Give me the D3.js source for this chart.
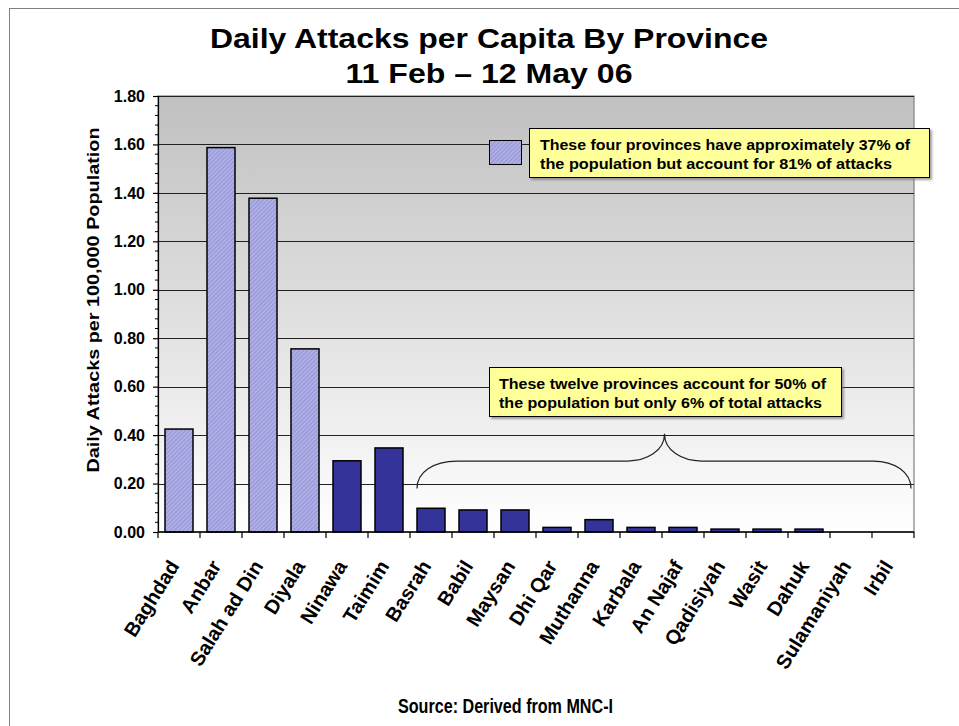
<!DOCTYPE html>
<html>
<head>
<meta charset="utf-8">
<script src="https://cdn.jsdelivr.net/npm/d3@7"></script>
<style>
  html, body { margin: 0; padding: 0; background: #ffffff; }
  svg { display: block; font-family: Arial, "Liberation Sans", Helvetica, sans-serif; }
</style>
</head>
<body>
<svg id="chart" width="959" height="726"></svg>
<script>
// ---------------- data ----------------
const provinces = ["Baghdad", "Anbar", "Salah ad Din", "Diyala", "Ninawa", "Taimim", "Basrah", "Babil",
  "Maysan", "Dhi Qar", "Muthanna", "Karbala", "An Najaf", "Qadisiyah", "Wasit", "Dahuk", "Sulamaniyah", "Irbil"];
const attacksPerCapita = [0.425, 1.587, 1.378, 0.756, 0.294, 0.347, 0.098, 0.091,
  0.091, 0.019, 0.051, 0.019, 0.019, 0.012, 0.012, 0.012, 0.0, 0.0];
const highProvinces = ["Baghdad", "Anbar", "Salah ad Din", "Diyala"];
const yTicks = [0, 0.2, 0.4, 0.6, 0.8, 1.0, 1.2, 1.4, 1.6, 1.8];
const titleLines = ["Daily Attacks per Capita By Province", "11 Feb \u2013 12 May 06"];
const yAxisTitle = "Daily Attacks per 100,000 Population";
const sourceText = "Source: Derived from MNC-I";
const note1 = ["These four provinces have approximately 37% of", "the population but account for 81% of attacks"];
const note2 = ["These twelve provinces account for 50% of", "the population but only 6% of total attacks"];
const braceStart = "Basrah", braceEnd = "Irbil";

// ---------------- layout ----------------
const svg = d3.select("#chart");
const plot = { left: 158, top: 96, right: 914, bottom: 532 };

const x = d3.scaleBand().domain(provinces).range([plot.left, plot.right]).paddingInner(1/3).paddingOuter(1/6);
const y = d3.scaleLinear().domain([0, 1.8]).range([plot.bottom, plot.top]);

const defs = svg.append("defs");
const grad = defs.append("linearGradient").attr("id", "bg").attr("x1", 0).attr("y1", 0).attr("x2", 0).attr("y2", 1);
grad.append("stop").attr("offset", "0%").attr("stop-color", "#c0c0c0");
grad.append("stop").attr("offset", "100%").attr("stop-color", "#ffffff");

const pat = defs.append("pattern").attr("id", "hatch").attr("patternUnits", "userSpaceOnUse")
  .attr("width", 3).attr("height", 3).attr("patternTransform", "rotate(45)");
pat.append("rect").attr("width", 3).attr("height", 3).attr("fill", "#aeaee8");
pat.append("line").attr("x1", 0).attr("y1", 0).attr("x2", 0).attr("y2", 3)
  .attr("stroke", "#8585c6").attr("stroke-width", 1.2);

const shadow = defs.append("filter").attr("id", "shadow").attr("x", "-5%").attr("y", "-5%").attr("width", "115%").attr("height", "125%");
shadow.append("feDropShadow").attr("dx", 2).attr("dy", 2).attr("stdDeviation", 0.8).attr("flood-color", "#777").attr("flood-opacity", 0.7);

// outer border
svg.append("rect").attr("x", 9.5).attr("y", 8.5).attr("width", 960).attr("height", 730)
  .attr("fill", "none").attr("stroke", "#808080").attr("stroke-width", 1);

// plot background
svg.append("rect").attr("x", plot.left).attr("y", plot.top)
  .attr("width", plot.right - plot.left).attr("height", plot.bottom - plot.top)
  .attr("fill", "url(#bg)").attr("stroke", "#808080").attr("stroke-width", 1.2);

// gridlines
svg.append("g").selectAll("line").data(yTicks.filter(d => d > 0)).join("line")
  .attr("x1", plot.left).attr("x2", plot.right)
  .attr("y1", d => Math.round(y(d)) + 0.5).attr("y2", d => Math.round(y(d)) + 0.5)
  .attr("stroke", "#222").attr("stroke-width", 1);

// bars
svg.append("g").selectAll("rect").data(provinces.map((p, i) => ({ p, v: attacksPerCapita[i] })).filter(d => d.v > 0))
  .join("rect")
  .attr("x", d => x(d.p)).attr("width", x.bandwidth())
  .attr("y", d => y(d.v)).attr("height", d => y(0) - y(d.v))
  .attr("fill", d => highProvinces.includes(d.p) ? "url(#hatch)" : "#333399")
  .attr("stroke", "#000").attr("stroke-width", 1.5);

// y axis
const yAxis = d3.axisLeft(y).tickValues(yTicks).tickFormat(d3.format(".2f")).tickSize(5).tickPadding(8);
const gy = svg.append("g").attr("transform", `translate(${plot.left},0)`).call(yAxis);
gy.select(".domain").attr("stroke", "#000").attr("stroke-width", 1.2);
gy.selectAll(".tick line").attr("stroke", "#000").attr("stroke-width", 1.2);
gy.selectAll(".tick text").attr("font-size", "16px").attr("font-weight", "bold").attr("fill", "#000")
  .attr("font-family", "Arial, 'Liberation Sans', sans-serif");
const minorTicks = d3.range(0, 1.8001, 0.04).filter(v => Math.abs(v / 0.2 - Math.round(v / 0.2)) > 1e-6);
svg.append("g").selectAll("line").data(minorTicks).join("line")
  .attr("x1", plot.left - 3).attr("x2", plot.left)
  .attr("y1", d => y(d)).attr("y2", d => y(d))
  .attr("stroke", "#000").attr("stroke-width", 1);

// x axis
svg.append("line").attr("x1", plot.left).attr("x2", plot.right).attr("y1", plot.bottom).attr("y2", plot.bottom)
  .attr("stroke", "#000").attr("stroke-width", 1.5);
const boundaries = provinces.map(p => x(p) - x.bandwidth() / 4).concat([plot.right]);
svg.append("g").selectAll("line").data(boundaries).join("line")
  .attr("x1", d => d).attr("x2", d => d).attr("y1", plot.bottom).attr("y2", plot.bottom + 6)
  .attr("stroke", "#000").attr("stroke-width", 1.2);

svg.append("g").selectAll("text").data(provinces).join("text")
  .attr("transform", p => `translate(${x(p) + x.bandwidth() / 2 + 1},${plot.bottom + 34}) rotate(-58)`)
  .attr("text-anchor", "end")
  .attr("font-size", "20px").attr("font-weight", "bold").attr("fill", "#000")
  .text(p => p);

// titles
svg.append("g").selectAll("text").data(titleLines).join("text")
  .attr("x", 489).attr("y", (d, i) => 48 + i * 35)
  .attr("text-anchor", "middle").attr("font-size", "28px").attr("font-weight", "bold").attr("fill", "#000")
  .attr("textLength", (d, i) => i === 0 ? 558 : 287).attr("lengthAdjust", "spacingAndGlyphs")
  .text(d => d);

svg.append("text")
  .attr("transform", "translate(99,300) rotate(-90)")
  .attr("text-anchor", "middle").attr("font-size", "17px").attr("font-weight", "bold")
  .attr("textLength", 345).attr("lengthAdjust", "spacingAndGlyphs")
  .text(yAxisTitle);

svg.append("text").attr("x", 505.5).attr("y", 712.5)
  .attr("text-anchor", "middle").attr("font-size", "19.5px").attr("font-weight", "bold")
  .attr("textLength", 215).attr("lengthAdjust", "spacingAndGlyphs")
  .text(sourceText);

// note 1 with swatch
svg.append("rect").attr("x", 489.5).attr("y", 140.5).attr("width", 32).attr("height", 24)
  .attr("fill", "url(#hatch)").attr("stroke", "#000").attr("stroke-width", 1);
const n1 = svg.append("g");
n1.append("rect").attr("x", 529.5).attr("y", 128.5).attr("width", 400).attr("height", 49)
  .attr("fill", "#ffff99").attr("stroke", "#000").attr("stroke-width", 1).attr("filter", "url(#shadow)");
n1.selectAll("text").data(note1).join("text")
  .attr("x", 540).attr("y", (d, i) => 150 + i * 18.5)
  .attr("font-size", "15px").attr("font-weight", "bold").attr("fill", "#000")
  .attr("textLength", (d, i) => i === 0 ? 370 : 352).attr("lengthAdjust", "spacingAndGlyphs")
  .text(d => d);

// note 2
const n2 = svg.append("g");
n2.append("rect").attr("x", 489.5).attr("y", 367.5).attr("width", 352).attr("height", 49)
  .attr("fill", "#ffff99").attr("stroke", "#000").attr("stroke-width", 1).attr("filter", "url(#shadow)");
n2.selectAll("text").data(note2).join("text")
  .attr("x", 499).attr("y", (d, i) => 389 + i * 19)
  .attr("font-size", "15px").attr("font-weight", "bold").attr("fill", "#000")
  .attr("textLength", (d, i) => i === 0 ? 327 : 323).attr("lengthAdjust", "spacingAndGlyphs")
  .text(d => d);

// brace under the twelve provinces
const bx0 = x(braceStart), bx1 = plot.right - 3, bm = (bx0 + bx1) / 2 + 0.5;
const byEnd = y(0.18), byMid = y(0.293), byTip = y(0.406);
const brace = d3.path();
brace.moveTo(bx0, byEnd);
brace.bezierCurveTo(bx0, byEnd - 16, bx0 + 16, byMid, bx0 + 40, byMid);
brace.lineTo(bm - 37, byMid);
brace.bezierCurveTo(bm - 18, byMid, bm, byMid - 10, bm, byTip);
brace.bezierCurveTo(bm, byMid - 10, bm + 18, byMid, bm + 37, byMid);
brace.lineTo(bx1 - 38, byMid);
brace.bezierCurveTo(bx1 - 16, byMid, bx1, byEnd - 16, bx1, byEnd);
svg.append("path").attr("d", brace.toString()).attr("fill", "none").attr("stroke", "#222").attr("stroke-width", 1.2);
</script>
</body>
</html>
